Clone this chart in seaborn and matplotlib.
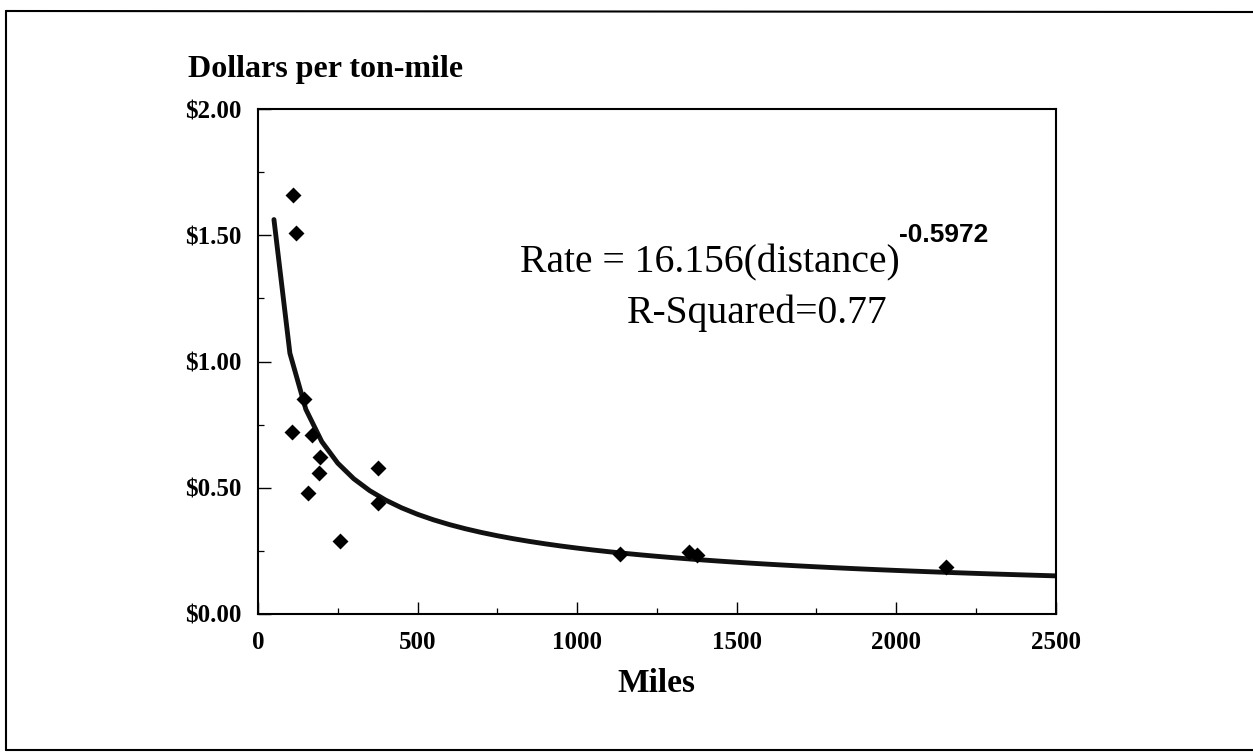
import numpy as np
import pandas as pd
import matplotlib
matplotlib.use("Agg")
import matplotlib.pyplot as plt
import seaborn as sns
from matplotlib.ticker import MultipleLocator, FixedLocator, FixedFormatter
from matplotlib.lines import Line2D

# ---- data ----
miles = [109, 120, 143, 106, 168, 193, 191, 156, 375, 377, 256, 1135, 1351, 1375, 2156]
rate = [1.66, 1.51, 0.85, 0.72, 0.71, 0.62, 0.56, 0.48, 0.58, 0.44, 0.29,
        0.236, 0.245, 0.232, 0.187]

# fitted power trend shown on the chart: Rate = 16.156 * distance^-0.5972
fit_coef = 16.156
fit_exp = -0.5972
r_squared = 0.77
trend_miles = list(range(50, 2501, 50))

x_ticks = [0, 500, 1000, 1500, 2000, 2500]
x_tick_labels = ["0", "500", "1000", "1500", "2000", "2500"]
y_ticks = [0.0, 0.5, 1.0, 1.5, 2.0]
y_tick_labels = ["$0.00", "$0.50", "$1.00", "$1.50", "$2.00"]

title_text = "Dollars per ton-mile"
x_label = "Miles"
eq_main = "Rate = 16.156(distance)"
eq_sup = "-0.5972"
r2_text = "R-Squared=0.77"

# ---- styling ----
sns.set_theme(style="white")
plt.rcParams["font.family"] = ["Liberation Serif", "DejaVu Serif"]

W, H = 1253, 752
fig = plt.figure(figsize=(W / 100, H / 100), dpi=100)
fig.patch.set_facecolor("white")

def fx(px):
    return px / W

def fy(py):
    return 1 - py / H

ax_left, ax_right, ax_top, ax_bottom = 258, 1055.5, 109, 614
ax = fig.add_axes([fx(ax_left), fy(ax_bottom), fx(ax_right - ax_left), (ax_bottom - ax_top) / H])
ax.set_facecolor("white")

pts = pd.DataFrame({"Miles": miles, "Rate": rate})
trend = pd.DataFrame({"Miles": trend_miles,
                      "Rate": [fit_coef * m ** fit_exp for m in trend_miles]})

sns.lineplot(data=trend, x="Miles", y="Rate", ax=ax, color="#111111",
             linewidth=3.5, solid_capstyle="round", zorder=2)
sns.scatterplot(data=pts, x="Miles", y="Rate", ax=ax, marker="D", s=66,
                color="black", edgecolor="black", linewidth=0, zorder=3)

ax.set_xlim(0, 2500)
ax.set_ylim(0, 2.0)
ax.set_xlabel("")
ax.set_ylabel("")

ax.xaxis.set_major_locator(FixedLocator(x_ticks))
ax.xaxis.set_major_formatter(FixedFormatter(x_tick_labels))
ax.xaxis.set_minor_locator(MultipleLocator(250))
ax.yaxis.set_major_locator(FixedLocator(y_ticks))
ax.yaxis.set_major_formatter(FixedFormatter(y_tick_labels))
ax.yaxis.set_minor_locator(MultipleLocator(0.25))

ax.tick_params(axis="both", which="both", bottom=True, left=True, top=False, right=False)
ax.tick_params(axis="both", which="major", direction="in", length=9, width=1.0,
               color="black", labelsize=18, labelcolor="black")
ax.tick_params(axis="both", which="minor", direction="in", length=4.5, width=0.9,
               color="black")
ax.tick_params(axis="x", which="major", pad=12)
ax.tick_params(axis="y", which="major", pad=12)
for lab in ax.get_xticklabels() + ax.get_yticklabels():
    lab.set_fontweight("bold")

for side in ["left", "right", "top", "bottom"]:
    ax.spines[side].set_visible(True)
    ax.spines[side].set_color("black")
    ax.spines[side].set_linewidth(1.5)

# axis texts
fig.text(fx(188), fy(77), title_text, ha="left", va="baseline",
         fontsize=23, fontweight="bold", color="black")
fig.text(fx((ax_left + ax_right) / 2), fy(692), x_label, ha="center", va="baseline",
         fontsize=24, fontweight="bold", color="black")

# equation annotation
t_main = fig.text(fx(520), fy(272), eq_main, ha="left", va="baseline",
                  fontsize=28.5, color="black")
fig.canvas.draw()
bb = t_main.get_window_extent(renderer=fig.canvas.get_renderer())
fig.text(bb.x1 / W - fx(1), fy(242), eq_sup, ha="left", va="baseline",
         fontsize=19, fontweight="bold", color="black",
         family=["Liberation Sans", "DejaVu Sans"])
fig.text(fx(757), fy(323), r2_text, ha="center", va="baseline",
         fontsize=28.5, color="black")

# outer page frame (left, top and bottom edges visible in the scan)
frame_kw = dict(transform=fig.transFigure, color="black", linewidth=1.5)
fig.lines.append(Line2D([fx(6), fx(6)], [fy(750), fy(11)], **frame_kw))
fig.lines.append(Line2D([fx(6), fx(1253)], [fy(11), fy(12)], **frame_kw))
fig.lines.append(Line2D([fx(6), fx(1253)], [fy(750), fy(750)], **frame_kw))

fig.savefig("out.png", dpi=100, facecolor="white")
